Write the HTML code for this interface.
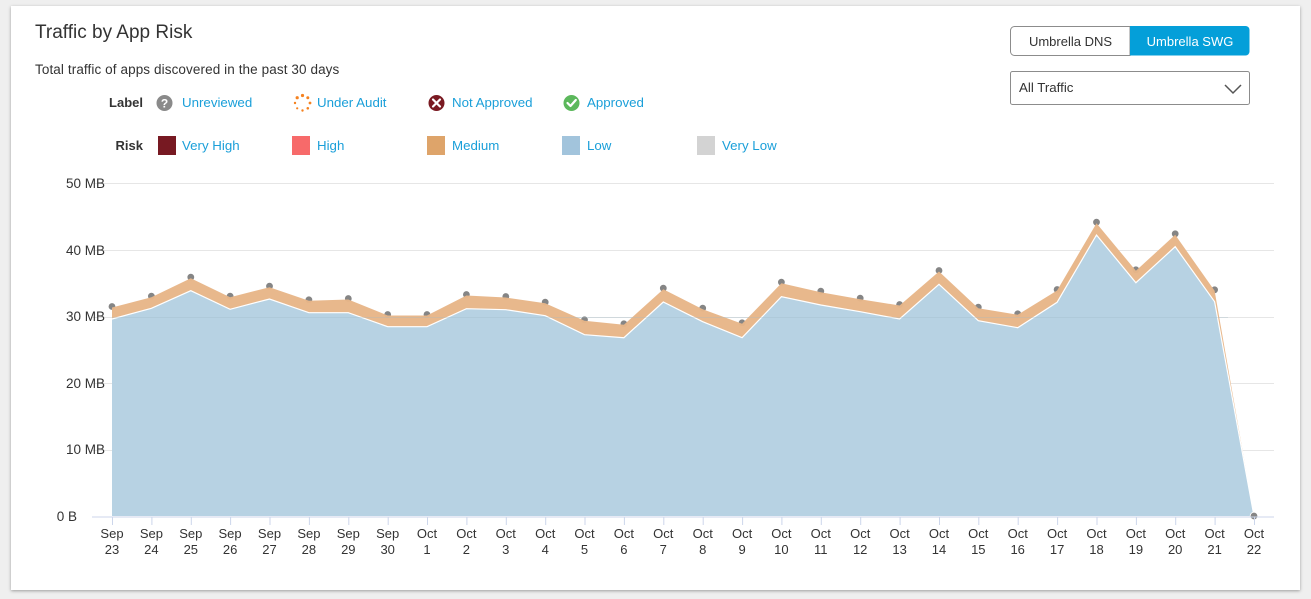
<!DOCTYPE html>
<html><head><meta charset="utf-8"><style>
html,body{margin:0;padding:0;background:#efefef;}
body{width:1311px;height:599px;overflow:hidden;position:relative;font-family:"Liberation Sans",Arial,sans-serif;}
.card{position:absolute;left:11px;top:6px;width:1289px;height:584px;background:#fff;box-shadow:0 1px 3px rgba(0,0,0,0.35);}
svg{position:absolute;left:0;top:0;}
</style></head><body>
<div class="card"></div>
<svg width="1311" height="599" viewBox="0 0 1311 599" xmlns="http://www.w3.org/2000/svg" font-family="Liberation Sans, Arial, sans-serif">
  <text x="35" y="38" font-size="19" fill="#333">Traffic by App Risk</text>
  <text x="35" y="74" font-size="13.5" fill="#333" letter-spacing="0.1">Total traffic of apps discovered in the past 30 days</text>

  <!-- Label row -->
  <text x="143" y="107" font-size="13" font-weight="bold" fill="#333" text-anchor="end">Label</text>
  <circle cx="164.5" cy="103" r="8" fill="#8a8a8a"/>
  <text x="164.5" y="107.5" font-size="12" font-weight="bold" fill="#fff" text-anchor="middle">?</text>
  <text x="182" y="107" font-size="13.3" fill="#1a9fd9">Unreviewed</text>

  <g fill="#f58220">
    <circle cx="302.5" cy="95.5" r="1.6"/>
    <circle cx="307.8" cy="97.7" r="1.5"/>
    <circle cx="310" cy="103" r="1.4"/>
    <circle cx="307.8" cy="108.3" r="1.3"/>
    <circle cx="302.5" cy="110.5" r="1.2"/>
    <circle cx="297.2" cy="108.3" r="1.1"/>
    <circle cx="295" cy="103" r="1.2"/>
    <circle cx="297.2" cy="97.7" r="1.6"/>
  </g>
  <text x="317" y="107" font-size="13.3" fill="#1a9fd9">Under Audit</text>

  <circle cx="436.5" cy="103" r="8" fill="#7a1a22"/>
  <path d="M433 99.5 L440 106.5 M440 99.5 L433 106.5" stroke="#fff" stroke-width="2.2" stroke-linecap="round"/>
  <text x="452" y="107" font-size="13.3" fill="#1a9fd9">Not Approved</text>

  <circle cx="571.5" cy="103" r="8" fill="#5cb85c"/>
  <path d="M567.5 103 L570.5 106 L575.8 100" stroke="#fff" stroke-width="2.2" fill="none" stroke-linecap="round" stroke-linejoin="round"/>
  <text x="587" y="107" font-size="13.3" fill="#1a9fd9">Approved</text>

  <!-- Risk row -->
  <text x="143" y="150" font-size="13" font-weight="bold" fill="#333" text-anchor="end">Risk</text>
  <rect x="158" y="136" width="18" height="19" fill="#771922"/>
  <text x="182" y="150" font-size="13.3" fill="#1a9fd9">Very High</text>
  <rect x="292" y="136" width="18" height="19" fill="#f76a6a"/>
  <text x="317" y="150" font-size="13.3" fill="#1a9fd9">High</text>
  <rect x="427" y="136" width="18" height="19" fill="#dea46a"/>
  <text x="452" y="150" font-size="13.3" fill="#1a9fd9">Medium</text>
  <rect x="562" y="136" width="18" height="19" fill="#a2c4dc"/>
  <text x="587" y="150" font-size="13.3" fill="#1a9fd9">Low</text>
  <rect x="697" y="136" width="18" height="19" fill="#d3d3d3"/>
  <text x="722" y="150" font-size="13.3" fill="#1a9fd9">Very Low</text>

  <!-- Buttons -->
  <path d="M1130 26.5 H1014.5 a4 4 0 0 0 -4 4 V51.5 a4 4 0 0 0 4 4 H1130 Z" fill="#fff" stroke="#8c8c8c" stroke-width="1"/>
  <path d="M1130 26 H1245.5 a4 4 0 0 1 4 4 V51.5 a4 4 0 0 1 -4 4 H1130 Z" fill="#049fd9"/>
  <text x="1070.5" y="46" font-size="13" fill="#333" text-anchor="middle">Umbrella DNS</text>
  <text x="1190" y="46" font-size="13" fill="#fff" text-anchor="middle">Umbrella SWG</text>

  <rect x="1010.5" y="71.5" width="239" height="33" rx="2" fill="#fff" stroke="#8c8c8c" stroke-width="1"/>
  <text x="1019" y="92" font-size="13.3" fill="#333">All Traffic</text>
  <polyline points="1225,85 1233,93 1241,85" fill="none" stroke="#555" stroke-width="1.5"/>

  <!-- Grid -->
  <g stroke="#e6e6e6" stroke-width="1">
    <line x1="92" y1="183.5" x2="1274" y2="183.5"/>
    <line x1="92" y1="250.5" x2="1274" y2="250.5"/>
    <line x1="92" y1="317.5" x2="1274" y2="317.5"/>
    <line x1="92" y1="383.5" x2="1274" y2="383.5"/>
    <line x1="92" y1="450.5" x2="1274" y2="450.5"/>
  </g>
  <g font-size="13.5" fill="#333" text-anchor="end">
    <text x="105" y="188">50 MB</text>
    <text x="105" y="255">40 MB</text>
    <text x="105" y="321">30 MB</text>
    <text x="105" y="388">20 MB</text>
    <text x="105" y="454">10 MB</text>
    <text x="77" y="521">0 B</text>
  </g>

  <!-- dots (drawn under area) -->
  <g fill="#858585" stroke="#fff" stroke-width="0.8">
    <circle cx="112" cy="306.5" r="3.8"/><circle cx="151.4" cy="296.2" r="3.8"/><circle cx="190.8" cy="277.2" r="3.8"/><circle cx="230.1" cy="296.2" r="3.8"/><circle cx="269.5" cy="286.2" r="3.8"/><circle cx="308.9" cy="299.8" r="3.8"/><circle cx="348.3" cy="298.5" r="3.8"/><circle cx="387.7" cy="314.5" r="3.8"/><circle cx="427" cy="314.5" r="3.8"/><circle cx="466.4" cy="294.5" r="3.8"/><circle cx="505.8" cy="296.5" r="3.8"/><circle cx="545.2" cy="302.2" r="3.8"/><circle cx="584.5" cy="319.8" r="3.8"/><circle cx="623.9" cy="323.8" r="3.8"/><circle cx="663.3" cy="288.2" r="3.8"/><circle cx="702.7" cy="308.2" r="3.8"/><circle cx="742.1" cy="322.8" r="3.8"/><circle cx="781.4" cy="282.2" r="3.8"/><circle cx="820.8" cy="291.2" r="3.8"/><circle cx="860.2" cy="298.2" r="3.8"/><circle cx="899.6" cy="304.5" r="3.8"/><circle cx="939" cy="270.5" r="3.8"/><circle cx="978.3" cy="307.2" r="3.8"/><circle cx="1017.7" cy="313.8" r="3.8"/><circle cx="1057.1" cy="289.5" r="3.8"/><circle cx="1096.5" cy="222.2" r="3.8"/><circle cx="1135.9" cy="269.8" r="3.8"/><circle cx="1175.2" cy="233.8" r="3.8"/><circle cx="1214.6" cy="289.8" r="3.8"/>
  </g>

  <!-- orange band -->
  <polygon fill="#e7b688" fill-opacity="0.97" points="112,307.5 151.4,297.2 190.8,278.2 230.1,297.2 269.5,287.2 308.9,300.8 348.3,299.5 387.7,315.5 427,315.5 466.4,295.5 505.8,297.5 545.2,303.2 584.5,320.8 623.9,324.8 663.3,289.2 702.7,309.2 742.1,323.8 781.4,283.2 820.8,292.2 860.2,299.2 899.6,305.5 939,271.5 978.3,308.2 1017.7,314.8 1057.1,290.5 1096.5,223.2 1135.9,270.8 1175.2,234.8 1214.6,290.8 1254,516 1214.6,301.7 1175.2,246.7 1135.9,282.7 1096.5,235 1057.1,302.3 1017.7,327.7 978.3,320.7 939,284.3 899.6,319 860.2,311.7 820.8,305 781.4,296.7 742.1,337.7 702.7,321.7 663.3,302 623.9,337.7 584.5,334.7 545.2,315.7 505.8,309.7 466.4,308.7 427,326.7 387.7,326.7 348.3,312.7 308.9,312.7 269.5,299 230.1,309.3 190.8,290.7 151.4,308.3 112,319"/>

  <!-- blue area -->
  <polygon fill="#b7d2e3" points="112,319 151.4,308.3 190.8,290.7 230.1,309.3 269.5,299 308.9,312.7 348.3,312.7 387.7,326.7 427,326.7 466.4,308.7 505.8,309.7 545.2,315.7 584.5,334.7 623.9,337.7 663.3,302 702.7,321.7 742.1,337.7 781.4,296.7 820.8,305 860.2,311.7 899.6,319 939,284.3 978.3,320.7 1017.7,327.7 1057.1,302.3 1096.5,235 1135.9,282.7 1175.2,246.7 1214.6,301.7 1254,516 112,516"/>
  <polyline fill="none" stroke="#fff" stroke-width="1.2" points="112,319 151.4,308.3 190.8,290.7 230.1,309.3 269.5,299 308.9,312.7 348.3,312.7 387.7,326.7 427,326.7 466.4,308.7 505.8,309.7 545.2,315.7 584.5,334.7 623.9,337.7 663.3,302 702.7,321.7 742.1,337.7 781.4,296.7 820.8,305 860.2,311.7 899.6,319 939,284.3 978.3,320.7 1017.7,327.7 1057.1,302.3 1096.5,235 1135.9,282.7 1175.2,246.7 1214.6,301.7 1254,516"/>
  <g stroke="#9fb8c8" stroke-opacity="0.3" stroke-width="1">
    <line x1="112" y1="317.5" x2="1228" y2="317.5"/>
  </g>
  <circle cx="1254" cy="516" r="3.8" fill="#858585" stroke="#fff" stroke-width="0.8"/>

  <!-- x axis -->
  <line x1="92" y1="517" x2="1274" y2="517" stroke="#ccd6eb" stroke-width="1"/>
  <g stroke="#ccd6eb" stroke-width="1">
    <line x1="112.5" y1="517" x2="112.5" y2="525"/><line x1="151.9" y1="517" x2="151.9" y2="525"/><line x1="191.3" y1="517" x2="191.3" y2="525"/><line x1="230.6" y1="517" x2="230.6" y2="525"/><line x1="270" y1="517" x2="270" y2="525"/><line x1="309.4" y1="517" x2="309.4" y2="525"/><line x1="348.8" y1="517" x2="348.8" y2="525"/><line x1="388.2" y1="517" x2="388.2" y2="525"/><line x1="427.5" y1="517" x2="427.5" y2="525"/><line x1="466.9" y1="517" x2="466.9" y2="525"/><line x1="506.3" y1="517" x2="506.3" y2="525"/><line x1="545.7" y1="517" x2="545.7" y2="525"/><line x1="585" y1="517" x2="585" y2="525"/><line x1="624.4" y1="517" x2="624.4" y2="525"/><line x1="663.8" y1="517" x2="663.8" y2="525"/><line x1="703.2" y1="517" x2="703.2" y2="525"/><line x1="742.6" y1="517" x2="742.6" y2="525"/><line x1="781.9" y1="517" x2="781.9" y2="525"/><line x1="821.3" y1="517" x2="821.3" y2="525"/><line x1="860.7" y1="517" x2="860.7" y2="525"/><line x1="900.1" y1="517" x2="900.1" y2="525"/><line x1="939.5" y1="517" x2="939.5" y2="525"/><line x1="978.8" y1="517" x2="978.8" y2="525"/><line x1="1018.2" y1="517" x2="1018.2" y2="525"/><line x1="1057.6" y1="517" x2="1057.6" y2="525"/><line x1="1097" y1="517" x2="1097" y2="525"/><line x1="1136.4" y1="517" x2="1136.4" y2="525"/><line x1="1175.7" y1="517" x2="1175.7" y2="525"/><line x1="1215.1" y1="517" x2="1215.1" y2="525"/><line x1="1254.5" y1="517" x2="1254.5" y2="525"/>
  </g>
  <g font-size="13" fill="#333" text-anchor="middle">
    <text x="112" y="538">Sep</text><text x="112" y="554">23</text>
    <text x="151.4" y="538">Sep</text><text x="151.4" y="554">24</text>
    <text x="190.8" y="538">Sep</text><text x="190.8" y="554">25</text>
    <text x="230.1" y="538">Sep</text><text x="230.1" y="554">26</text>
    <text x="269.5" y="538">Sep</text><text x="269.5" y="554">27</text>
    <text x="308.9" y="538">Sep</text><text x="308.9" y="554">28</text>
    <text x="348.3" y="538">Sep</text><text x="348.3" y="554">29</text>
    <text x="387.7" y="538">Sep</text><text x="387.7" y="554">30</text>
    <text x="427" y="538">Oct</text><text x="427" y="554">1</text>
    <text x="466.4" y="538">Oct</text><text x="466.4" y="554">2</text>
    <text x="505.8" y="538">Oct</text><text x="505.8" y="554">3</text>
    <text x="545.2" y="538">Oct</text><text x="545.2" y="554">4</text>
    <text x="584.5" y="538">Oct</text><text x="584.5" y="554">5</text>
    <text x="623.9" y="538">Oct</text><text x="623.9" y="554">6</text>
    <text x="663.3" y="538">Oct</text><text x="663.3" y="554">7</text>
    <text x="702.7" y="538">Oct</text><text x="702.7" y="554">8</text>
    <text x="742.1" y="538">Oct</text><text x="742.1" y="554">9</text>
    <text x="781.4" y="538">Oct</text><text x="781.4" y="554">10</text>
    <text x="820.8" y="538">Oct</text><text x="820.8" y="554">11</text>
    <text x="860.2" y="538">Oct</text><text x="860.2" y="554">12</text>
    <text x="899.6" y="538">Oct</text><text x="899.6" y="554">13</text>
    <text x="939" y="538">Oct</text><text x="939" y="554">14</text>
    <text x="978.3" y="538">Oct</text><text x="978.3" y="554">15</text>
    <text x="1017.7" y="538">Oct</text><text x="1017.7" y="554">16</text>
    <text x="1057.1" y="538">Oct</text><text x="1057.1" y="554">17</text>
    <text x="1096.5" y="538">Oct</text><text x="1096.5" y="554">18</text>
    <text x="1135.9" y="538">Oct</text><text x="1135.9" y="554">19</text>
    <text x="1175.2" y="538">Oct</text><text x="1175.2" y="554">20</text>
    <text x="1214.6" y="538">Oct</text><text x="1214.6" y="554">21</text>
    <text x="1254" y="538">Oct</text><text x="1254" y="554">22</text>
  </g>
</svg>
</body></html>
